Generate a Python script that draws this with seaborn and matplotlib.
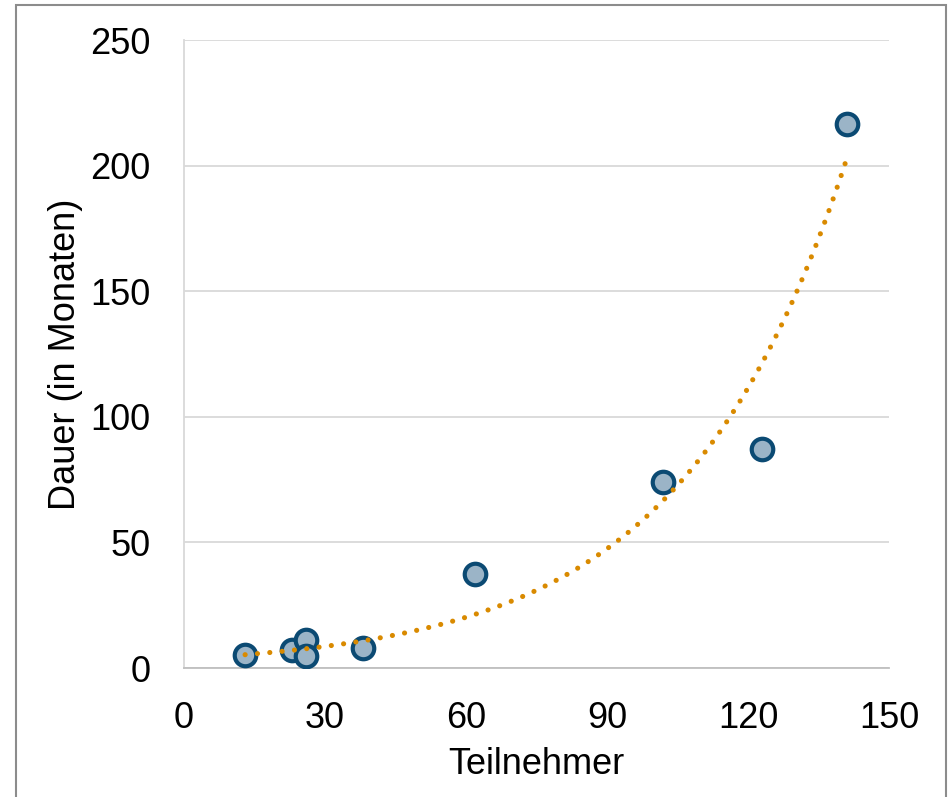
import matplotlib
import matplotlib.pyplot as plt
import numpy as np
import pandas as pd
import seaborn as sns
from matplotlib.patches import Rectangle

matplotlib.use("Agg")

# ---------------------------------------------------------------------------
# Data
# ---------------------------------------------------------------------------
teilnehmer = [13, 23, 26, 26, 38, 62, 102, 123, 141]
dauer      = [5.2, 7.2, 11.1, 4.8, 8.0, 37.4, 74.0, 87.2, 216.6]

x_ticks = [0, 30, 60, 90, 120, 150]
y_ticks = [0, 50, 100, 150, 200, 250]

df = pd.DataFrame({"Teilnehmer": teilnehmer, "Dauer": dauer})

# Exponential trend line (Excel style: fit in log space)
b, ln_a = np.polyfit(df["Teilnehmer"], np.log(df["Dauer"]), 1)
trend_x = np.linspace(df["Teilnehmer"].min(), df["Teilnehmer"].max(), 200)
trend_y = np.exp(ln_a) * np.exp(b * trend_x)

# ---------------------------------------------------------------------------
# Plot
# ---------------------------------------------------------------------------
sns.set_theme(style="white")
plt.rcParams["font.family"] = ["Liberation Sans", "DejaVu Sans"]

fig = plt.figure(figsize=(9.49, 7.97), dpi=100)
ax = fig.add_axes([184 / 949, 1 - 668 / 797, (889 - 184) / 949, (668 - 40) / 797])

sns.scatterplot(data=df, x="Teilnehmer", y="Dauer", ax=ax,
                s=240, color="#9BB4C7", edgecolor="#0B4A73", linewidth=3.0,
                zorder=3, legend=False)

# dotted trend line sits on top of the markers, like in Excel
ax.plot(trend_x, trend_y, color="#D98A00", linewidth=3.7,
        linestyle=(0, (0.01, 2.4)), dash_capstyle="round", zorder=4)

ax.set_xlim(0, 150)
ax.set_ylim(0, 250)
ax.set_xticks(x_ticks)
ax.set_yticks(y_ticks)
ax.yaxis.grid(True, color="#D9D9D9", linewidth=1.3)
ax.xaxis.grid(False)
ax.set_axisbelow(True)

for side in ("top", "right"):
    ax.spines[side].set_visible(False)
ax.spines["left"].set_color("#D9D9D9")
ax.spines["bottom"].set_color("#BFBFBF")
ax.spines["left"].set_linewidth(1.3)
ax.spines["bottom"].set_linewidth(1.3)

ax.tick_params(axis="both", labelsize=26, colors="black", length=0, pad=24)
ax.set_xlabel("Teilnehmer", fontsize=26, labelpad=8, color="black")
ax.set_ylabel("Dauer (in Monaten)", fontsize=26, labelpad=5.5, color="black")

# Outer chart border
fig.patches.append(Rectangle((16 / 949, -0.01), (946 - 16) / 949, 1 - 5 / 797 + 0.01,
                             transform=fig.transFigure, fill=False,
                             edgecolor="#8C8C8C", linewidth=1.5))

fig.savefig("out.png", dpi=100)
plt.close(fig)
